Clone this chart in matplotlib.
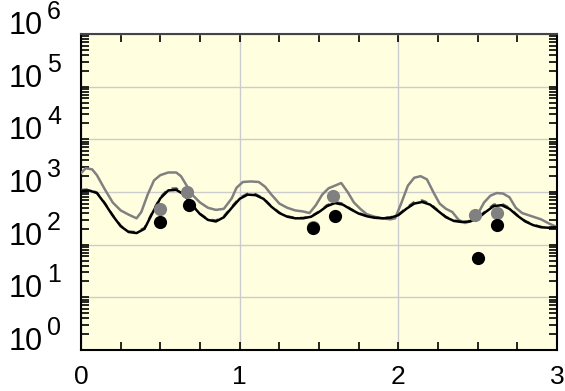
import matplotlib
matplotlib.use('Agg')
import matplotlib.pyplot as plt
import numpy as np
from matplotlib.ticker import LogLocator, MultipleLocator, FixedLocator, NullFormatter

plt.rcParams['font.family'] = ['Liberation Sans', 'DejaVu Sans']

# model curves (x, log10 y)
xBlack = [0.0, 0.05, 0.1, 0.15, 0.2, 0.25, 0.3, 0.35, 0.4, 0.45, 0.5, 0.55, 0.6, 0.65, 0.7, 0.75,
          0.8, 0.85, 0.9, 0.95, 1.0, 1.05, 1.1, 1.15, 1.2, 1.25, 1.3, 1.35, 1.4, 1.45, 1.5, 1.55,
          1.6, 1.65, 1.7, 1.75, 1.8, 1.85, 1.9, 1.95, 2.0, 2.05, 2.1, 2.15, 2.2, 2.25, 2.3, 2.35,
          2.4, 2.45, 2.5, 2.55, 2.6, 2.65, 2.7, 2.75, 2.8, 2.85, 2.9, 2.95, 3.0]
logBlack = [3.02, 3.03, 2.98, 2.78, 2.55, 2.35, 2.24, 2.22, 2.30, 2.60, 2.88, 3.03, 3.04, 2.95, 2.75, 2.58,
            2.47, 2.44, 2.52, 2.70, 2.87, 2.95, 2.94, 2.87, 2.72, 2.60, 2.53, 2.50, 2.50, 2.53, 2.62, 2.73,
            2.79, 2.76, 2.67, 2.59, 2.54, 2.51, 2.50, 2.51, 2.56, 2.68, 2.78, 2.81, 2.76, 2.64, 2.52, 2.45,
            2.43, 2.44, 2.50, 2.62, 2.73, 2.75, 2.68, 2.55, 2.44, 2.37, 2.33, 2.32, 2.33]
logDashed = [3.04, 3.05, 2.99, 2.79, 2.56, 2.36, 2.25, 2.24, 2.32, 2.62, 2.90, 3.06, 3.07, 2.97, 2.76, 2.59,
             2.48, 2.46, 2.54, 2.72, 2.89, 2.97, 2.96, 2.88, 2.73, 2.61, 2.54, 2.51, 2.51, 2.54, 2.63, 2.75,
             2.81, 2.78, 2.68, 2.60, 2.55, 2.52, 2.51, 2.52, 2.57, 2.70, 2.81, 2.84, 2.78, 2.65, 2.53, 2.46,
             2.44, 2.45, 2.51, 2.64, 2.76, 2.78, 2.70, 2.56, 2.45, 2.38, 2.34, 2.33, 2.34]
xGrey = [0.0, 0.03, 0.07, 0.1, 0.15, 0.2, 0.25, 0.3, 0.35, 0.38, 0.42, 0.46, 0.5, 0.55, 0.6, 0.63,
         0.67, 0.7, 0.75, 0.8, 0.85, 0.9, 0.95, 0.98, 1.02, 1.07, 1.12, 1.16, 1.2, 1.25, 1.3, 1.35,
         1.4, 1.44, 1.48, 1.52, 1.56, 1.6, 1.64, 1.68, 1.72, 1.76, 1.8, 1.85, 1.9, 1.95, 1.98, 2.02,
         2.06, 2.1, 2.14, 2.18, 2.22, 2.26, 2.3, 2.34, 2.38, 2.42, 2.46, 2.5, 2.54, 2.58, 2.62, 2.66,
         2.7, 2.74, 2.78, 2.82, 2.86, 2.9, 2.95, 2.98, 3.0]
logGrey = [3.36, 3.45, 3.43, 3.32, 3.05, 2.80, 2.65, 2.57, 2.50, 2.62, 2.95, 3.22, 3.32, 3.37, 3.37, 3.30,
           3.10, 2.95, 2.80, 2.70, 2.66, 2.68, 2.88, 3.08, 3.19, 3.20, 3.19, 3.10, 2.95, 2.78, 2.70, 2.65,
           2.63, 2.60, 2.75, 2.95, 3.07, 3.12, 3.17, 3.00, 2.80, 2.68, 2.58, 2.53, 2.50, 2.48, 2.50, 2.80,
           3.12, 3.27, 3.30, 3.24, 3.00, 2.78, 2.68, 2.62, 2.47, 2.41, 2.45, 2.58, 2.80, 2.93, 2.98, 2.97,
           2.90, 2.70, 2.60, 2.56, 2.52, 2.48, 2.40, 2.36, 2.33]

# measured points
xGreyPts = [0.5, 0.67, 1.46, 1.59, 2.48, 2.62]
logGreyPts = [2.68, 3.00, 2.33, 2.92, 2.56, 2.60]
xBlackPts = [0.5, 0.68, 1.46, 1.60, 2.50, 2.62]
logBlackPts = [2.43, 2.75, 2.32, 2.54, 1.75, 2.37]

yExp = [0, 1, 2, 3, 4, 5, 6]
xTickLabels = ['0', '1', '2', '3']

fig = plt.figure(figsize=(5.65, 3.91), dpi=100)
ax = fig.add_axes([0.1434, 0.1049, 0.8425, 0.8082])
ax.set_facecolor('#ffffe0')

ax.plot(xGrey, 10**np.array(logGrey), color='#808080', lw=1.8, zorder=3)
ax.plot(xBlack, 10**np.array(logDashed), color='#555555', lw=1.6, ls=(0, (3, 3)), zorder=3)
ax.plot(xBlack, 10**np.array(logBlack), color='black', lw=1.8, zorder=4)
ax.plot(xGreyPts, 10**np.array(logGreyPts), 'o', color='#808080', ms=9.5, mec='none', zorder=5)
ax.plot(xBlackPts, 10**np.array(logBlackPts), 'o', color='black', ms=9.5, mec='none', zorder=6)

ax.set_yscale('log')
ax.set_xlim(0, 3)
ax.set_ylim(1, 1e6)

ax.xaxis.set_major_locator(FixedLocator(range(len(xTickLabels))))
ax.set_xticklabels(xTickLabels)
ax.xaxis.set_minor_locator(MultipleLocator(0.25))
ax.yaxis.set_major_locator(FixedLocator([10.0**k for k in yExp]))
ax.yaxis.set_minor_locator(LogLocator(base=10, subs=np.arange(2, 10), numticks=20))
ax.yaxis.set_minor_formatter(NullFormatter())
ax.set_yticklabels([])

# y labels drawn by hand: big "10" with a large exponent
for k in yExp:
    ax.annotate('10', xy=(0, 10.0**k), xycoords=('axes fraction', 'data'),
                xytext=(-38, 0), textcoords='offset pixels',
                ha='right', va='baseline', fontsize=22, annotation_clip=False)
    ax.annotate(str(k), xy=(0, 10.0**k), xycoords=('axes fraction', 'data'),
                xytext=(-34, 15), textcoords='offset pixels',
                ha='left', va='baseline', fontsize=18, annotation_clip=False)

ax.tick_params(which='both', direction='in', top=True, right=True, width=1.2, color='black')
ax.tick_params(which='major', length=6)
ax.tick_params(which='minor', length=6)
ax.tick_params(axis='x', which='major', labelsize=19, pad=11)

ax.grid(True, which='major', color='#cccccc', lw=1, zorder=0)
ax.set_axisbelow(True)
for s in ax.spines.values():
    s.set_linewidth(1.5)
    s.set_color('black')
ax.spines['top'].set_color('#444444')

fig.savefig('out.png', dpi=100)
